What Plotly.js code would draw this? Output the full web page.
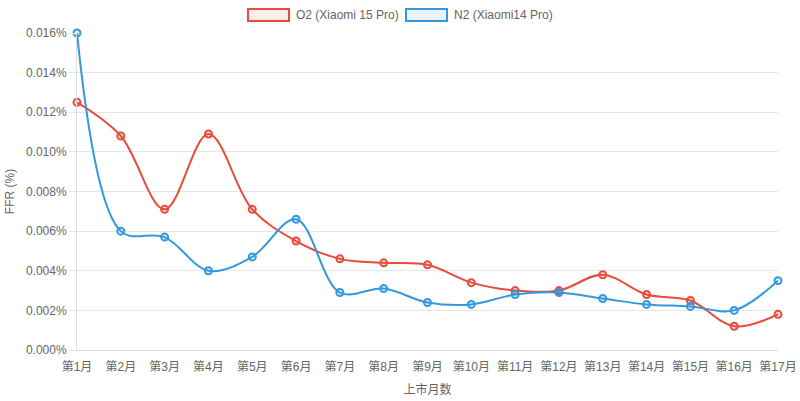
<!DOCTYPE html>
<html>
<head>
<meta charset="utf-8">
<script src="https://cdn.plot.ly/plotly-3.0.1.min.js"></script>
<style>
  html, body { margin: 0; padding: 0; background: #fff; }
  #chart { width: 800px; height: 401px; }
</style>
</head>
<body>
<div id="chart"></div>
<script>
// months since launch
var months = ['第1月', '第2月', '第3月', '第4月', '第5月', '第6月', '第7月', '第8月', '第9月',
              '第10月', '第11月', '第12月', '第13月', '第14月', '第15月', '第16月', '第17月'];

// FFR in percent
var o2Values = [0.0125, 0.0108, 0.0071, 0.0109, 0.0071, 0.0055, 0.0046, 0.0044, 0.0043,
                0.0034, 0.0030, 0.0030, 0.0038, 0.0028, 0.0025, 0.0012, 0.0018];
var n2Values = [0.0160, 0.0060, 0.0057, 0.0040, 0.0047, 0.0066, 0.0029, 0.0031, 0.0024,
                0.0023, 0.0028, 0.0029, 0.0026, 0.0023, 0.0022, 0.0020, 0.0035];

var seriesNames = ['O2 (Xiaomi 15 Pro)', 'N2 (Xiaomi14 Pro)'];
var yTicks = [0, 0.002, 0.004, 0.006, 0.008, 0.010, 0.012, 0.014, 0.016];
var yTickText = yTicks.map(function (v) { return v.toFixed(3) + '%'; });

var red = '#e74c3c', blue = '#3498db';
var fontFam = 'Liberation Sans, Arial, "Noto Sans CJK SC", sans-serif';

// plot area in pixels
var W = 800, H = 401, L = 77, R = 22, T = 33, B = 51;
var pw = W - L - R, ph = H - T - B;
function px(x) { return (x - L) / pw; }
function py(y) { return (H - B - y) / ph; }

function series(name, vals, color, fill) {
  return {
    type: 'scatter',
    mode: 'lines+markers',
    name: name,
    x: months,
    y: vals,
    line: { color: color, width: 2, shape: 'spline', smoothing: 1 },
    marker: { symbol: 'circle', size: 7, color: fill, line: { color: color, width: 2 } },
    hoverinfo: 'x+y+name',
    cliponaxis: false
  };
}

var data = [
  series(seriesNames[0], o2Values, red, 'rgba(231,76,60,0.15)'),
  series(seriesNames[1], n2Values, blue, 'rgba(52,152,219,0.15)')
];

// legend drawn as boxes + labels, like the original
var legendItems = [
  { x: 248, color: red, fill: 'rgba(231,76,60,0.1)', label: seriesNames[0] },
  { x: 406, color: blue, fill: 'rgba(52,152,219,0.1)', label: seriesNames[1] }
];
var shapes = [], annotations = [];
legendItems.forEach(function (it) {
  shapes.push({
    type: 'rect', xref: 'paper', yref: 'paper',
    x0: px(it.x), x1: px(it.x + 41), y0: py(21), y1: py(9),
    line: { color: it.color, width: 2 }, fillcolor: it.fill
  });
  annotations.push({
    xref: 'paper', yref: 'paper', x: px(it.x + 46), y: py(15),
    xanchor: 'left', yanchor: 'middle', showarrow: false,
    text: it.label, font: { family: fontFam, size: 12, color: '#666' }
  });
});

var layout = {
  width: W, height: H,
  margin: { l: L, r: R, t: T, b: B, pad: 0 },
  paper_bgcolor: '#fff', plot_bgcolor: '#fff',
  showlegend: false,
  font: { family: fontFam, size: 12, color: '#666' },
  xaxis: {
    type: 'category',
    range: [0, months.length - 1],
    showgrid: false, zeroline: false,
    showline: true, linecolor: '#ddd', linewidth: 1,
    ticks: 'outside', ticklen: 6, tickcolor: 'rgba(0,0,0,0)',
    tickfont: { family: fontFam, size: 12, color: '#666' },
    title: { text: '上市月数', standoff: 12, font: { family: fontFam, size: 12, color: '#666' } }
  },
  yaxis: {
    range: [0, 0.016],
    tickmode: 'array',
    tickvals: yTicks,
    ticktext: yTickText,
    showgrid: true, gridcolor: '#e6e6e6', gridwidth: 1,
    zeroline: false,
    showline: true, linecolor: '#ddd', linewidth: 1,
    ticks: 'outside', ticklen: 7, tickcolor: '#e6e6e6',
    tickfont: { family: fontFam, size: 12, color: '#666' },
    title: { text: 'FFR (%)', standoff: 8, font: { family: fontFam, size: 12, color: '#666' } }
  },
  shapes: shapes,
  annotations: annotations
};

Plotly.newPlot('chart', data, layout, { displayModeBar: false, staticPlot: true });
</script>
</body>
</html>
